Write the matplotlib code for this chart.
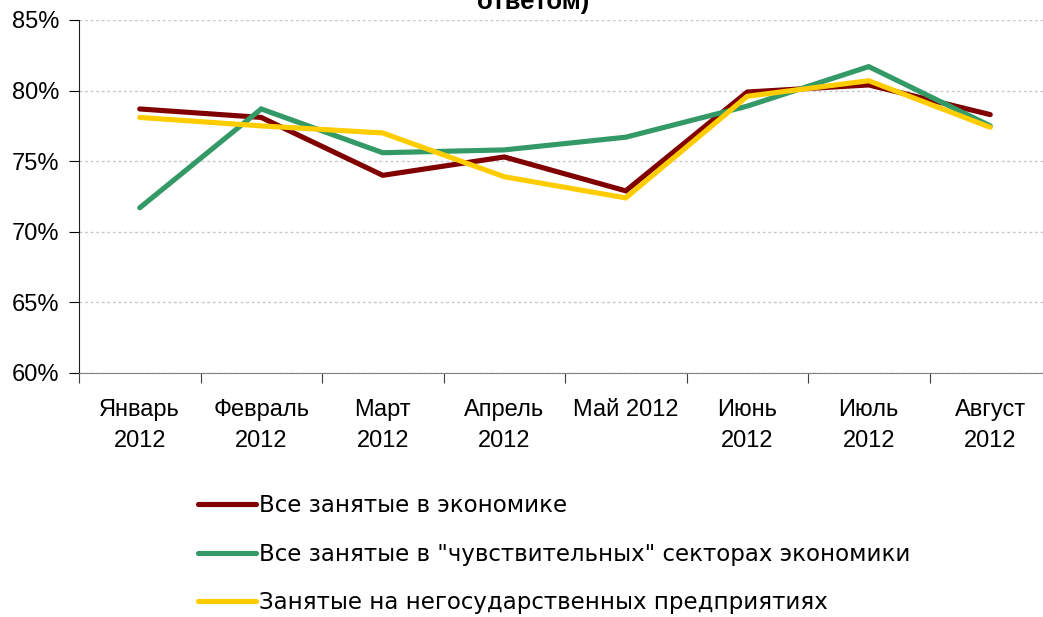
import matplotlib
matplotlib.use("Agg")
import matplotlib.pyplot as plt
from matplotlib.ticker import FuncFormatter, FixedLocator

plt.rcParams['font.family'] = ['Liberation Sans', 'DejaVu Sans']

# data
months = ["Январь\n2012", "Февраль\n2012", "Март\n2012", "Апрель\n2012",
          "Май 2012", "Июнь\n2012", "Июль\n2012", "Август\n2012"]
all_employed = [78.7, 78.1, 74.0, 75.3, 72.9, 79.9, 80.4, 78.3]
sensitive = [71.7, 78.7, 75.6, 75.8, 76.7, 78.9, 81.7, 77.5]
non_state = [78.1, 77.5, 77.0, 73.9, 72.4, 79.6, 80.7, 77.4]

labels = ["Все занятые в экономике",
          "Все занятые в \"чувствительных\" секторах экономики",
          "Занятые на негосударственных предприятиях"]
colors = ["#800000", "#339966", "#FFCC00"]

fig = plt.figure(figsize=(10.43, 6.17), dpi=100)
# the chart is cropped on the right, so the axes run past the figure edge
ax = fig.add_axes([79/1043, 244/617, 972/1043, 353/617])

x = range(len(months))
for ys, lab, c in zip([all_employed, sensitive, non_state], labels, colors):
    ax.plot(x, ys, color=c, lw=3.7, label=lab, solid_capstyle='round',
            solid_joinstyle='miter')

ax.set_xlim(-0.5, len(months) - 0.5)
ax.set_ylim(60, 85)
ax.set_yticks([60, 65, 70, 75, 80, 85])
ax.yaxis.set_major_formatter(FuncFormatter(lambda v, p: f"{v:.0f}%"))
ax.yaxis.grid(True, color="#c8c8c8", linestyle=(0, (2, 2)), lw=1)
ax.set_axisbelow(True)

# ticks on category boundaries, labels in the middle
ax.xaxis.set_major_locator(FixedLocator([i - 0.5 for i in range(len(months) + 1)]))
ax.xaxis.set_minor_locator(FixedLocator(list(x)))
ax.set_xticklabels([])
ax.set_xticklabels(months, minor=True, fontsize=17, linespacing=1.5)
ax.tick_params(axis='x', which='minor', length=0, pad=19)
ax.tick_params(axis='x', which='major', length=7, color="#404040")
ax.tick_params(axis='y', labelsize=17, length=7, pad=7)

for s in ["top", "right"]:
    ax.spines[s].set_visible(False)
ax.spines["bottom"].set_color("#808080")
ax.spines["left"].set_color("#202020")

fig.text(533/1043, 1 - 8.5/617, "ответом)", ha='center', va='baseline',
         fontsize=18.5, fontweight='bold')

fig.legend(loc='upper left', bbox_to_anchor=(187/1043, 1 - 483/617),
           frameon=False, prop={'family': 'DejaVu Sans', 'size': 16.5},
           handlelength=2.5, handletextpad=0.15, labelspacing=1.1,
           borderpad=0)

fig.savefig("out.png", dpi=100)
